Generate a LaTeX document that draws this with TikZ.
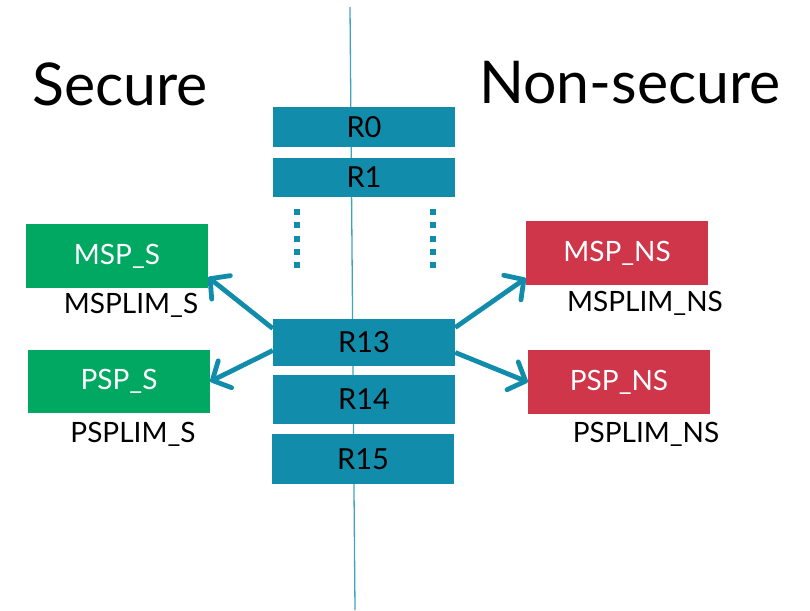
\documentclass[tikz,border=0pt]{standalone}
\usepackage{fontspec}
\setmainfont{Lato}
\usetikzlibrary{arrows.meta,positioning}

\definecolor{regblue}{RGB}{18,140,171}
\definecolor{secgreen}{RGB}{0,168,98}
\definecolor{nsred}{RGB}{208,54,74}

\tikzset{
  reg/.style={fill=regblue,inner sep=0pt,minimum width=182,
    font=\fontsize{29}{29}\selectfont},
  spbox/.style={inner sep=0pt,minimum width=182,minimum height=64,
    text=white,font=\fontsize{28}{28}\selectfont},
  limit/.style={inner sep=0pt,font=\fontsize{28}{28}\selectfont},
  title/.style={inner sep=0pt,anchor=base west,font=\fontsize{59}{59}\selectfont},
  sparrow/.style={regblue,line width=4.8,
    -{Straight Barb[length=14,width=30,line cap=round,line join=round]}}
}

\begin{document}
\begin{tikzpicture}[x=1pt,y=-1pt]
  \useasboundingbox (0,0) rectangle (810,610);

  % dividing line
  \coordinate (top) at (350,7);
  \coordinate (bot) at (355,610);
  \draw[regblue!80,line width=1.3] (top) -- (bot);

  % titles
  \node[title] (sec) at (32,105) {Secure};
  \node[title] (nsec) at (479,103) {Non-secure};

  % register bank
  \node[reg,minimum height=40] (r0) at (364,127) {R0};
  \node[reg,minimum height=39] (r1) at (364,177.5) {R1};
  \node[reg,minimum height=47] (r13) at (364,342.5) {R13};
  \node[reg,minimum height=49] (r14) at (364,399.5) {R14};
  \node[reg,minimum height=50] (r15) at (363,459) {R15};

  % dots between R1 and R13
  \foreach \y in {212,225.3,238.6,251.9,265.2}{
    \fill[regblue] (294,\y-3) rectangle ++(6,6);
    \fill[regblue] (430,\y-3) rectangle ++(6,6);
  }

  % secure stack pointers
  \node[spbox,fill=secgreen] (msps) at (117,256) {MSP\_S};
  \node[spbox,fill=secgreen,minimum height=63] (psps) at (119,381.5) {PSP\_S};
  \node[limit] (msplims) at (131,305) {MSPLIM\_S};
  \node[limit] (psplims) at (133,434) {PSPLIM\_S};

  % non-secure stack pointers
  \node[spbox,fill=nsred] (mspns) at (617,253) {MSP\_NS};
  \node[spbox,fill=nsred] (pspns) at (619,382) {PSP\_NS};
  \node[limit] (msplimns) at (645,303) {MSPLIM\_NS};
  \node[limit] (psplimns) at (646,434) {PSPLIM\_NS};

  % R13 banking
  \draw[sparrow] ([yshift=14]r13.west) -- ([yshift=11]msps.south east);
  \draw[sparrow] ([yshift=-8]r13.west) -- (psps.east);
  \draw[sparrow] ([yshift=15]r13.east) -- ([yshift=7]mspns.south west);
  \draw[sparrow] ([yshift=-10]r13.east) -- (pspns.west);
\end{tikzpicture}
\end{document}
